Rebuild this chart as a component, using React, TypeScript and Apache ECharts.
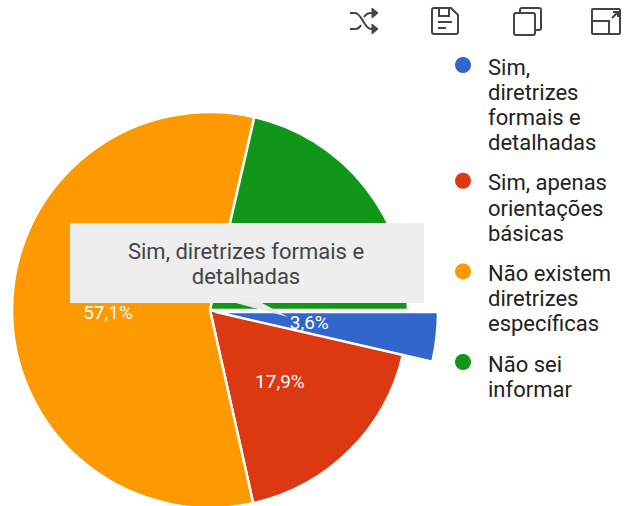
import React, { useEffect, useRef } from "react";
import * as echarts from "echarts";

const categories = ["Sim, diretrizes formais e detalhadas", "Sim, apenas orientações básicas", "Não existem diretrizes específicas", "Não sei informar"];
const values = [3.6, 17.9, 57.1, 21.4];
const labels = ["3,6%", "17,9%", "57,1%", "21,4%"];
const colors = ["#3366CC", "#DC3912", "#FF9900", "#109618"];
const legendLines = [
  ["Sim,", "diretrizes", "formais e", "detalhadas"],
  ["Sim, apenas", "orientações", "básicas"],
  ["Não existem", "diretrizes", "específicas"],
  ["Não sei", "informar"],
];
const tooltipLines = ["Sim, diretrizes formais e", "detalhadas"];
const FONT = "Roboto, 'Noto Sans', sans-serif";

const icons: Record<string, string> = {
  shuffleIcon: "M0 8 H5 C12 8 14 24 21 24 H24 M0 24 H5 C8 24 10 22 11 20 M14 12 C16 9 18 8 21 8 H24",
  shuffleHeads: "M22 3 L28 8 L22 13 Z M22 19 L28 24 L22 29 Z",
  saveIcon: "M3 1 H20 L27 8 V25 A2 2 0 0 1 25 27 H3 A2 2 0 0 1 1 25 V3 A2 2 0 0 1 3 1 Z M8 1 V9 H18 V1 M7 15 H21 M7 21 H15",
  copyIcon: "M7 6 V3 A2 2 0 0 1 9 1 H26 A2 2 0 0 1 28 3 V21 A2 2 0 0 1 26 23 H22 M3 6 H20 A2 2 0 0 1 22 8 V26 A2 2 0 0 1 20 28 H3 A2 2 0 0 1 1 26 V8 A2 2 0 0 1 3 6 Z",
  expandIcon: "M2 1 H28 A1 1 0 0 1 29 2 V25 A1 1 0 0 1 28 26 H2 A1 1 0 0 1 1 25 V2 A1 1 0 0 1 2 1 Z M1 13 H18 V26 M21 10 L27 4 M22 4 H27 V9",
};
Object.entries(icons).forEach(([name, d]) => echarts.graphic.registerShape(name, echarts.graphic.extendPath(d as any, {})));

const iconPositions: [string, number, number, boolean][] = [
  ["shuffleIcon", 350, 5, false],
  ["shuffleHeads", 350, 5, true],
  ["saveIcon", 431, 7, false],
  ["copyIcon", 513, 7, false],
  ["expandIcon", 591, 8, false],
];

export default function App() {
  const ref = useRef<HTMLDivElement>(null);
  useEffect(() => {
    const chart = echarts.init(ref.current!, null, { renderer: "svg" });
    const legendEls: any[] = [];
    let y = 65;
    legendLines.forEach((lines, i) => {
      legendEls.push({ type: "circle", z: 50, shape: { cx: 463, cy: y, r: 8 }, style: { fill: colors[i] } });
      lines.forEach((l, j) => {
        legendEls.push({ type: "text", z: 50, x: 488, y: y + 2 + j * 25.2, style: { text: l, fill: "#222", font: `22px ${FONT}`, verticalAlign: "middle" } });
      });
      y += lines.length * 25.2 + 15;
    });
    chart.setOption({
      animation: false,
      series: [
        {
          type: "pie", center: [210, 310], radius: [0, 198], startAngle: 0, clockwise: true, silent: true,
          itemStyle: { borderColor: "#fff", borderWidth: 2.5 },
          label: { show: true, position: "inside", color: "#fff", fontSize: 19, fontFamily: FONT, formatter: (p: any) => labels[p.dataIndex] },
          labelLine: { show: false },
          labelLayout: (p: any) => (p.dataIndex === 2 ? { dx: 0, dy: 3 } : { dx: -2, dy: -1 }),
          data: categories.map((name, i) => i === 0
            ? { name, value: values[i], itemStyle: { color: "transparent", borderColor: "transparent" }, label: { show: false } }
            : i === 3
              ? { name, value: values[i], itemStyle: { color: colors[i] }, label: { show: false } }
              : { name, value: values[i], itemStyle: { color: colors[i] } }),
        },
        {
          type: "pie", center: [216, 312], radius: [0, 222], startAngle: 0, clockwise: true, silent: true,
          itemStyle: { borderColor: "#fff", borderWidth: 2.5 },
          label: { show: true, position: "inside", color: "#fff", fontSize: 19, fontFamily: FONT, formatter: (p: any) => labels[p.dataIndex] },
          labelLine: { show: false },
          labelLayout: { dx: -20, dy: -2 },
          data: categories.map((name, i) => i === 0
            ? { name, value: values[i], itemStyle: { color: colors[i] } }
            : { name, value: values[i], itemStyle: { color: "transparent", borderColor: "transparent" }, label: { show: false } }),
        },
      ],
      graphic: [
        { type: "polygon", z: 40, shape: { points: [[236, 303], [262, 303], [288, 317]] }, style: { fill: "#EAEAEA" } },
        { type: "rect", z: 41, shape: { x: 70, y: 223, width: 354, height: 80 }, style: { fill: "#EEEEEE" } },
        ...tooltipLines.map((t, i) => ({ type: "text", z: 42, x: 246, y: 251 + i * 25, style: { text: t, fill: "#444", font: `22px ${FONT}`, align: "center", verticalAlign: "middle" } })),
        ...legendEls,
        ...iconPositions.map(([type, x, yy, filled]) => ({ type, z: 50, x, y: yy, style: filled ? { fill: "#444", stroke: "#444", lineWidth: 1 } : { fill: "none", stroke: "#444", lineWidth: 2 } })),
      ],
    });
    return () => chart.dispose();
  }, []);
  return <div ref={ref} style={{ position: "absolute", left: 0, top: 0, width: 624, height: 506, background: "#fff" }} />;
}
